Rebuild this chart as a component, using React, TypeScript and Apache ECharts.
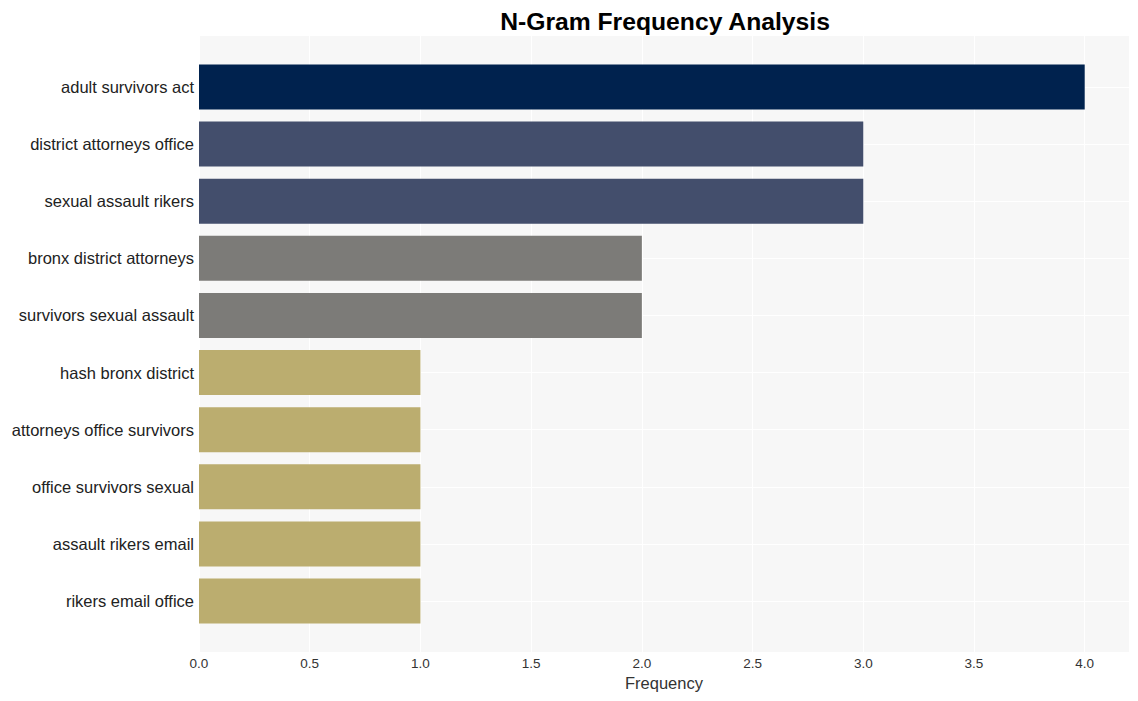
import React, { useEffect, useRef } from "react";
import * as echarts from "echarts";

const categories = [
  "adult survivors act",
  "district attorneys office",
  "sexual assault rikers",
  "bronx district attorneys",
  "survivors sexual assault",
  "hash bronx district",
  "attorneys office survivors",
  "office survivors sexual",
  "assault rikers email",
  "rikers email office",
];
const values = [4, 3, 3, 2, 2, 1, 1, 1, 1, 1];
const barColors = [
  "#00224e",
  "#434e6c",
  "#434e6c",
  "#7c7b78",
  "#7c7b78",
  "#bbad6f",
  "#bbad6f",
  "#bbad6f",
  "#bbad6f",
  "#bbad6f",
];
const xTicks = [0, 0.5, 1, 1.5, 2, 2.5, 3, 3.5, 4];

export default function App() {
  const ref = useRef<HTMLDivElement>(null);
  useEffect(() => {
    if (!ref.current) return;
    const chart = echarts.init(ref.current, undefined, { renderer: "svg" });
    const font = "Liberation Sans, Arial, sans-serif";
    chart.setOption({
      animation: false,
      title: {
        text: "N-Gram Frequency Analysis",
        left: 660,
        textAlign: "center",
        top: 4,
        textStyle: { fontFamily: font, fontSize: 24.7, fontWeight: "bold", color: "#000" },
      },
      grid: [
        {
          left: 199,
          top: 36,
          width: 930,
          height: 616,
          show: true,
          backgroundColor: "#f7f7f7",
          borderWidth: 0,
        },
        {
          left: 199,
          top: 87,
          width: 930,
          height: 514,
        },
      ],
      xAxis: [
        {
          gridIndex: 0,
          type: "value",
          min: 0,
          max: 4.2,
          interval: 0.5,
          axisLine: { show: false },
          axisTick: { show: false },
          splitLine: { show: true, lineStyle: { color: "#ffffff", width: 1 } },
          axisLabel: {
            fontFamily: font,
            fontSize: 13.5,
            color: "#333",
            margin: 4,
            formatter: (v: number) =>
              xTicks.some((t) => Math.abs(t - v) < 1e-6) ? v.toFixed(1) : "",
          },
          name: "Frequency",
          nameLocation: "middle",
          nameGap: 22,
          nameTextStyle: { fontFamily: font, fontSize: 16.5, color: "#333" },
        },
        {
          gridIndex: 1,
          type: "value",
          min: 0,
          max: 4.2,
          show: false,
          splitLine: { show: false },
        },
      ],
      yAxis: [
        {
          gridIndex: 0,
          type: "value",
          show: false,
          splitLine: { show: false },
        },
        {
          gridIndex: 1,
          type: "category",
          data: categories,
          inverse: true,
          boundaryGap: false,
          axisLine: { show: false },
          axisTick: { show: false },
          splitLine: { show: true, lineStyle: { color: "#ffffff", width: 1 } },
          axisLabel: { fontFamily: font, fontSize: 16.5, color: "#222", margin: 5 },
        },
      ],
      series: [
        {
          type: "bar",
          xAxisIndex: 1,
          yAxisIndex: 1,
          clip: false,
          barWidth: 45,
          data: values.map((v, i) => ({ value: v, itemStyle: { color: barColors[i] } })),
        },
      ],
    });
    return () => chart.dispose();
  }, []);
  return <div ref={ref} style={{ width: 1138, height: 701, position: "absolute", left: 0, top: 0 }} />;
}
